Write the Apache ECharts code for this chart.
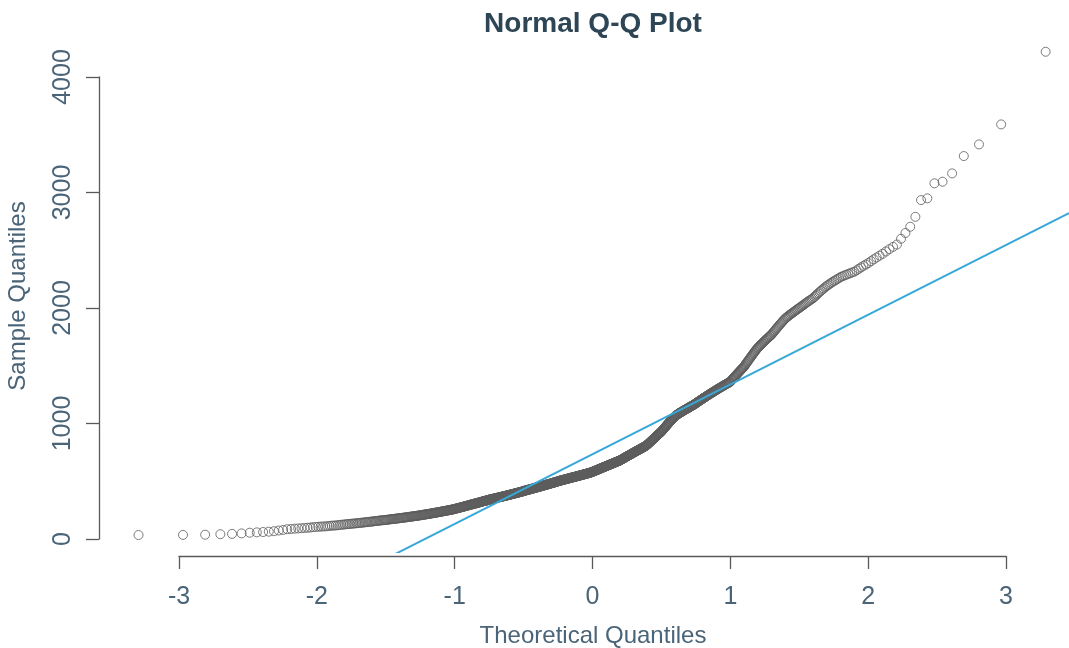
<!DOCTYPE html>
<html>
<head>
<meta charset="utf-8">
<title>Normal Q-Q Plot</title>
<script src="https://cdn.jsdelivr.net/npm/echarts@6/dist/echarts.min.js"></script>
<style>
  html, body { margin: 0; padding: 0; background: #ffffff; }
  #chart { width: 1069px; height: 648px; }
</style>
</head>
<body>
<div id="chart"></div>
<script>
// Sorted sample values (n = 1000), smallest first.
const sampleQuantiles = [
  35,36,38,42,45,49,55,58,61,64,68,74,79,85,87,90,92,94,96,98,100,103,105,
  106,108,109,110,112,114,116,117,118,120,122,124,125,127,129,130,131,133,
  134,135,137,138,139,140,142,143,145,146,147,148,150,151,152,154,155,156,157,159,160,161,162,163,164,165,
  166,167,168,169,171,172,173,173,174,176,177,178,179,180,181,182,183,184,185,186,
  187,188,189,190,191,192,194,194,195,196,197,198,199,200,201,202,203,204,205,
  206,207,208,210,210,211,213,214,214,215,217,218,218,219,221,222,223,223,224,226,
  227,228,229,229,231,232,233,234,234,236,237,238,239,240,241,242,243,244,245,246,
  247,248,249,250,251,252,253,254,255,256,257,258,260,
  261,262,263,265,266,267,268,269,271,272,273,274,276,277,278,279,281,282,283,284,
  286,287,288,289,291,292,293,294,296,297,298,299,300,301,303,304,305,306,307,308,
  309,310,312,313,314,315,316,317,319,320,321,322,323,324,326,327,328,329,330,331,
  332,333,334,335,336,337,339,340,
  341,342,343,344,345,345,346,347,348,349,350,351,352,353,354,354,355,356,357,358,
  359,360,361,362,363,363,364,365,366,367,368,369,370,371,372,372,373,374,375,376,
  377,378,378,380,381,381,382,383,384,385,386,387,388,389,390,390,391,392,393,394,
  395,396,397,398,399,399,400,401,402,403,404,405,406,407,408,408,409,410,411,412,
  414,415,
  416,417,418,419,420,420,421,422,423,424,425,426,427,428,429,429,430,431,432,433,
  434,435,436,437,438,438,439,440,441,442,443,444,444,446,447,447,448,449,450,451,
  452,453,454,455,456,456,457,458,459,460,461,462,463,464,465,465,466,467,468,469,
  470,471,472,473,474,474,475,476,477,478,479,480,481,482,483,483,484,485,486,487,
  488,489,490,491,492,492,493,494,495,496,497,498,500,
  501,502,502,503,504,505,506,507,507,508,509,510,511,511,512,513,514,515,515,516,
  517,518,519,519,520,521,522,523,523,524,525,526,527,527,528,529,530,531,531,532,
  533,534,535,535,536,537,538,538,539,540,541,542,542,543,544,545,546,546,547,548,
  549,550,550,551,552,553,554,554,555,556,557,558,558,559,560,561,562,562,563,564,
  565,566,566,567,568,569,570,570,571,572,573,574,575,576,577,578,579,580,
  581,582,584,585,586,587,589,590,591,592,594,595,596,597,599,600,601,602,604,605,
  606,607,609,610,611,612,614,615,616,617,619,620,621,622,624,625,626,627,629,630,
  631,632,634,635,636,637,639,640,641,642,644,645,646,647,649,650,651,652,654,655,
  656,657,659,660,661,662,664,665,666,667,669,670,671,672,674,675,676,677,679,680,
  682,684,685,687,689,691,692,694,696,698,699,701,703,705,706,708,710,712,713,715,
  717,719,720,722,724,726,727,729,731,733,734,736,738,740,741,743,745,747,748,750,
  752,754,755,757,759,761,762,764,766,768,769,771,773,775,776,778,780,782,783,785,
  787,789,790,792,794,796,797,799,801,803,805,807,809,812,814,817,
  820,823,826,829,832,835,838,841,844,848,851,854,857,860,863,866,869,872,875,878,
  881,884,887,890,893,897,900,903,906,909,912,915,918,921,924,927,
  931,935,939,943,947,951,955,959,963,967,971,975,979,983,987,991,995,999,1003,1007,
  1011,1015,1019,1023,1027,1031,1035,1039,1042,1046,1050,1053,1057,1060,
  1063,1066,1069,1072,1075,1077,1080,1082,1085,1087,1090,1092,1094,1096,1099,1101,1103,1105,1107,1110,
  1112,1114,1116,1118,1121,1123,1125,1127,1129,1132,1134,1136,1138,1140,1143,1145,1147,1149,1151,1154,
  1156,1158,1161,1163,1165,1168,1170,1173,
  1176,1179,1182,1184,1187,1190,1193,1195,1198,1201,1204,1206,1209,1212,1214,1217,1220,1223,1225,1228,
  1231,1234,1236,1239,1242,1245,1247,1250,1253,1256,1258,1261,1264,1267,1269,1272,1275,1278,1280,1283,
  1286,1289,
  1292,1294,1297,1300,1303,1305,1308,1311,1314,1316,1319,1322,1325,1327,1330,1333,1336,1338,1341,1344,
  1347,1349,1352,1355,1357,1360,
  1366,1371,1377,1383,1388,1394,1400,1405,1411,1417,1422,1428,1434,1439,1445,1451,1456,1462,1468,1473,
  1479,1484,1490,
  1498,1506,1514,1522,1530,1538,1546,1554,1562,1570,1578,1586,1594,1602,1610,1618,1626,1634,1642,1650,
  1656,1663,1669,1675,1682,1688,1694,1701,1707,1713,1720,1726,1732,1739,1745,1751,1758,1764,1770,
  1779,1788,1796,1805,1814,1823,1831,1840,1849,1858,1866,1875,1884,1893,1901,1910,
  1916,1923,1929,1936,1942,1949,1955,1961,1968,1974,1981,1987,1994,2000,
  2007,2014,2021,2028,2035,2043,2050,2057,2064,2071,2078,2085,
  2096,2106,2117,2127,2138,2148,2159,2169,2180,2190,
  2199,2208,2217,2226,2235,2243,2252,2261,2270,
  2276,2283,2289,2296,2302,2309,2315,
  2327,2340,2352,2365,2377,2390,
  2406,2422,2438,2454,2470,
  2490,2510,2530,2550,
  2600,2650,2704,2790,2935,2950,3080,3094,3166,3316,3417,3590,4219
];

// Reference line (intercept, slope) in sample units.
const refIntercept = 733;
const refSlope = 604;

// Axis ticks.
const xTicks = [-3, -2, -1, 0, 1, 2, 3];
const yTicks = [0, 1000, 2000, 3000, 4000];

const titleText = 'Normal Q-Q Plot';
const xLabelText = 'Theoretical Quantiles';
const yLabelText = 'Sample Quantiles';

// Inverse standard normal CDF (Acklam's rational approximation).
function qnorm(p) {
  const a = [-3.969683028665376e+01, 2.209460984245205e+02, -2.759285104469687e+02,
             1.383577518672690e+02, -3.066479806614716e+01, 2.506628277459239e+00];
  const b = [-5.447609879822406e+01, 1.615858368580409e+02, -1.556989798598866e+02,
             6.680131188771972e+01, -1.328068155288572e+01];
  const c = [-7.784894002430293e-03, -3.223964580411365e-01, -2.400758277161838e+00,
             -2.549732539343734e+00, 4.374664141464968e+00, 2.938163982698783e+00];
  const d = [7.784695709041462e-03, 3.224671290700398e-01, 2.445134137142996e+00,
             3.754408661907416e+00];
  const pl = 0.02425, ph = 1 - pl;
  let q, r;
  if (p < pl) {
    q = Math.sqrt(-2 * Math.log(p));
    return (((((c[0]*q + c[1])*q + c[2])*q + c[3])*q + c[4])*q + c[5]) /
           ((((d[0]*q + d[1])*q + d[2])*q + d[3])*q + 1);
  }
  if (p <= ph) {
    q = p - 0.5; r = q * q;
    return (((((a[0]*r + a[1])*r + a[2])*r + a[3])*r + a[4])*r + a[5]) * q /
           (((((b[0]*r + b[1])*r + b[2])*r + b[3])*r + b[4])*r + 1);
  }
  q = Math.sqrt(-2 * Math.log(1 - p));
  return -(((((c[0]*q + c[1])*q + c[2])*q + c[3])*q + c[4])*q + c[5]) /
          ((((d[0]*q + d[1])*q + d[2])*q + d[3])*q + 1);
}

// Plotting positions (i - 0.5) / n, as in qqnorm.
const n = sampleQuantiles.length;
const points = sampleQuantiles.map((v, i) => [qnorm((i + 0.5) / n), v]);

// Plot-region extents of the data panel.
const xMin = -3.57, xMax = 3.46;
const yMin = -112, yMax = 4494;

const refLine = [xMin, xMax].map(x => [x, refIntercept + refSlope * x]);

const axisColor = '#5a5a5a';
const labelColor = '#4a6478';
const fontFamily = '"Liberation Sans", Arial, Helvetica, sans-serif';

const chart = echarts.init(document.getElementById('chart'));
chart.setOption({
  animation: false,
  backgroundColor: '#ffffff',
  grid: [
    { left: 100, right: 0, top: 20, height: 532, containLabel: false },   // data panel
    { left: 179, width: 827, top: 555, height: 1 },                        // bottom axis
    { left: 99, width: 1, top: 77, height: 462 }                           // left axis
  ],
  xAxis: [
    { gridIndex: 0, type: 'value', min: xMin, max: xMax, show: false },
    {
      gridIndex: 1, type: 'value', position: 'bottom',
      min: xTicks[0], max: xTicks[xTicks.length - 1], interval: 1,
      axisLine: { show: true, lineStyle: { color: axisColor, width: 1.3 } },
      axisTick: { show: true, length: 13, lineStyle: { color: axisColor, width: 1.3 } },
      axisLabel: { margin: 29, fontSize: 25, color: labelColor, fontFamily: fontFamily },
      splitLine: { show: false }
    },
    { gridIndex: 2, type: 'value', show: false, min: 0, max: 1 }
  ],
  yAxis: [
    { gridIndex: 0, type: 'value', min: yMin, max: yMax, show: false },
    { gridIndex: 1, type: 'value', show: false, min: 0, max: 1 },
    {
      gridIndex: 2, type: 'value', position: 'right',
      min: yTicks[0], max: yTicks[yTicks.length - 1], interval: 1000,
      axisLine: { show: true, lineStyle: { color: axisColor, width: 1.3 } },
      axisTick: { show: true, inside: true, length: 13, lineStyle: { color: axisColor, width: 1.3 } },
      axisLabel: { show: false },
      splitLine: { show: false }
    }
  ],
  graphic: [
    {
      type: 'text', x: 593, y: 24,
      style: {
        text: titleText, fill: '#2d4555', font: 'bold 28px ' + fontFamily,
        align: 'center', verticalAlign: 'middle'
      }
    },
    {
      type: 'text', x: 593, y: 636,
      style: {
        text: xLabelText, fill: labelColor, font: '24px ' + fontFamily,
        align: 'center', verticalAlign: 'middle'
      }
    },
    {
      type: 'text', x: 18, y: 296, rotation: Math.PI / 2,
      style: {
        text: yLabelText, fill: labelColor, font: '24px ' + fontFamily,
        align: 'center', verticalAlign: 'middle'
      }
    }
  ].concat(yTicks.map(t => ({
    type: 'text', x: 63, y: 539 - t * 0.1155, rotation: Math.PI / 2,
    style: {
      text: String(t), fill: labelColor, font: '25px ' + fontFamily,
      align: 'center', verticalAlign: 'middle'
    }
  }))),
  series: [
    {
      type: 'scatter',
      xAxisIndex: 0, yAxisIndex: 0,
      data: points,
      symbol: 'circle',
      symbolSize: 9,
      clip: false,
      itemStyle: { color: 'rgba(0,0,0,0)', borderColor: '#5c5c5c', borderWidth: 1 },
      z: 2
    },
    {
      type: 'line',
      xAxisIndex: 0, yAxisIndex: 0,
      data: refLine,
      symbol: 'none',
      clip: true,
      lineStyle: { color: '#38a8d8', width: 2 },
      z: 3
    }
  ]
});
</script>
</body>
</html>
